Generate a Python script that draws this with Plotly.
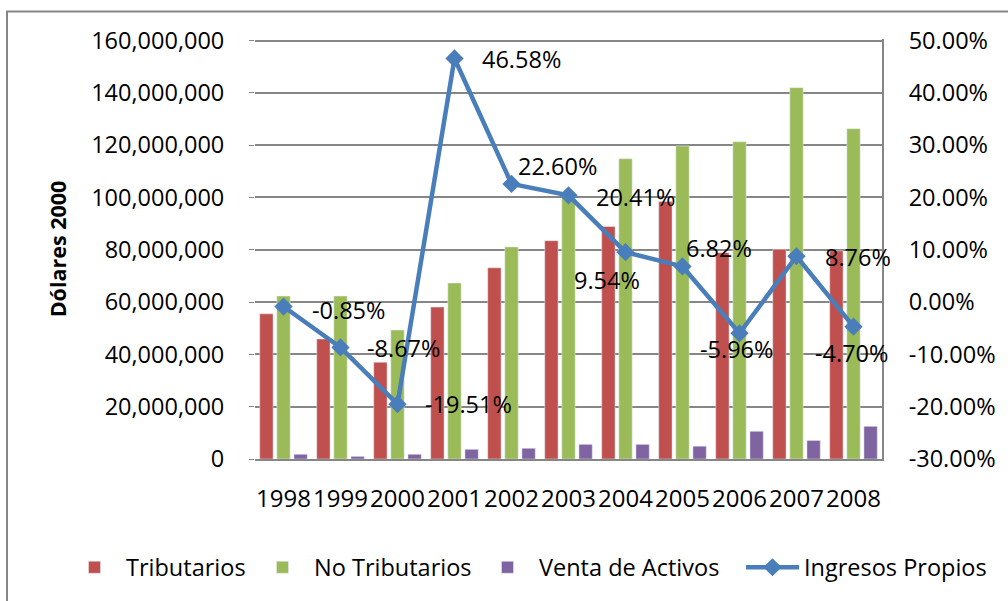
import plotly.graph_objects as go

years = ["1998", "1999", "2000", "2001", "2002", "2003", "2004", "2005", "2006", "2007", "2008"]
tributarios = [55.5e6, 45.9e6, 37.0e6, 58.1e6, 73.1e6, 83.5e6, 88.9e6, 98.5e6, 78.9e6, 80.2e6, 79.6e6]
no_tributarios = [62.3e6, 62.3e6, 49.3e6, 67.3e6, 81.1e6, 100.0e6, 114.8e6, 119.7e6, 121.3e6, 142.0e6, 126.3e6]
venta_activos = [1.8e6, 1.0e6, 1.8e6, 3.7e6, 4.1e6, 5.6e6, 5.6e6, 4.9e6, 10.6e6, 7.1e6, 12.5e6]
ingresos_propios = [-0.85, -8.67, -19.51, 46.58, 22.60, 20.41, 9.54, 6.82, -5.96, 8.76, -4.70]

left_ticks = [0, 20e6, 40e6, 60e6, 80e6, 100e6, 120e6, 140e6, 160e6]
right_ticks = [-30, -20, -10, 0, 10, 20, 30, 40, 50]

FONT = "Open Sans"
FS = 23.5

# label placement (xanchor, xshift px, yshift px)
label_pos = [("left", 26, -3), ("left", 24, -1), ("left", 25, 0), ("left", 25, -1),
             ("left", 4, 18), ("left", 25, -2), ("center", -19, -28), ("left", 1, 18),
             ("center", -3, -16), ("left", 26, -1), ("center", -2, -26)]

fig = go.Figure()
fig.add_trace(go.Bar(x=years, y=tributarios, name="Tributarios", marker_color="#C0504D",
                     legend="legend"))
fig.add_trace(go.Bar(x=years, y=no_tributarios, name="No Tributarios", marker_color="#9BBB59",
                     legend="legend2"))
fig.add_trace(go.Bar(x=years, y=venta_activos, name="Venta de Activos", marker_color="#8064A2",
                     legend="legend3"))
fig.add_trace(go.Scatter(x=years, y=ingresos_propios, name="Ingresos Propios", yaxis="y2",
                         mode="lines+markers", legend="legend4",
                         line=dict(color="#4A7EBB", width=4.5),
                         marker=dict(symbol="diamond", size=14, color="#4A7EBB")))

for i, (v, (xa, xs, ys)) in enumerate(zip(ingresos_propios, label_pos)):
    fig.add_annotation(x=i, y=v, xref="x", yref="y2", text=f"{v:.2f}%", showarrow=False,
                       xanchor=xa, yanchor="middle", xshift=xs, yshift=ys,
                       font=dict(family=FONT, size=FS, color="#000000"))

EXT = 0.6e6  # small headroom so the top gridline is drawn
L, R, B = 255, 882, 458.7
T = 41 - (B - 41) * EXT / 160e6
W, H = R - L, B - T

def px(x):
    return (x - L) / W

def py(y):
    return (B - y) / H

fig.add_shape(type="rect", xref="paper", yref="paper",
              x0=px(7), x1=px(1020), y0=py(620), y1=py(12),
              line=dict(color="#868686", width=2), fillcolor="rgba(0,0,0,0)", layer="below")

def leg(text_left):
    return dict(orientation="h", x=px(text_left - 64), xanchor="left",
                y=py(567), yanchor="middle", font=dict(family=FONT, size=FS),
                itemwidth=53, bgcolor="rgba(0,0,0,0)")

fig.update_layout(
    width=1008, height=601,
    margin=dict(l=L, r=1008 - R, t=T, b=601 - B, autoexpand=False),
    paper_bgcolor="white", plot_bgcolor="white",
    barmode="group", bargap=0.1, bargroupgap=0.22,
    font=dict(family=FONT, size=FS, color="#000000"),
    showlegend=True,
    legend=leg(127), legend2=leg(315), legend3=leg(540), legend4=leg(805),
    xaxis=dict(type="category", categoryorder="array", categoryarray=years,
               range=[-0.5, len(years) - 0.5], autorange=False,
               showgrid=False, showline=True, linecolor="#868686", linewidth=2,
               ticks="", tickfont=dict(family=FONT, size=24), ticklabelstandoff=17,
               tickangle=0, tickmode="array", tickvals=years, ticktext=years),
    yaxis=dict(range=[0, 160e6 + EXT], tickvals=left_ticks, tickformat=",.0f",
               showgrid=True, gridcolor="#868686", gridwidth=2,
               zeroline=False, showline=False, ticks="outside", ticklen=5, tickcolor="#868686",
               tickfont=dict(family=FONT, size=FS), ticklabelstandoff=20,
               title=dict(text="<b>Dólares 2000</b>", font=dict(family=FONT, size=21.5), standoff=18)),
    yaxis2=dict(range=[-30, 50 + 80 * EXT / 160e6], tickvals=right_ticks,
                ticktext=[f"{t:.2f}%" for t in right_ticks],
                overlaying="y", side="right", showgrid=False, zeroline=False,
                showline=True, linecolor="#868686", linewidth=2, ticks="",
                tickfont=dict(family=FONT, size=FS), ticklabelstandoff=20),
)

fig.write_html("out.html", config={"displayModeBar": False},
               post_script="document.body.style.margin='0px';")
